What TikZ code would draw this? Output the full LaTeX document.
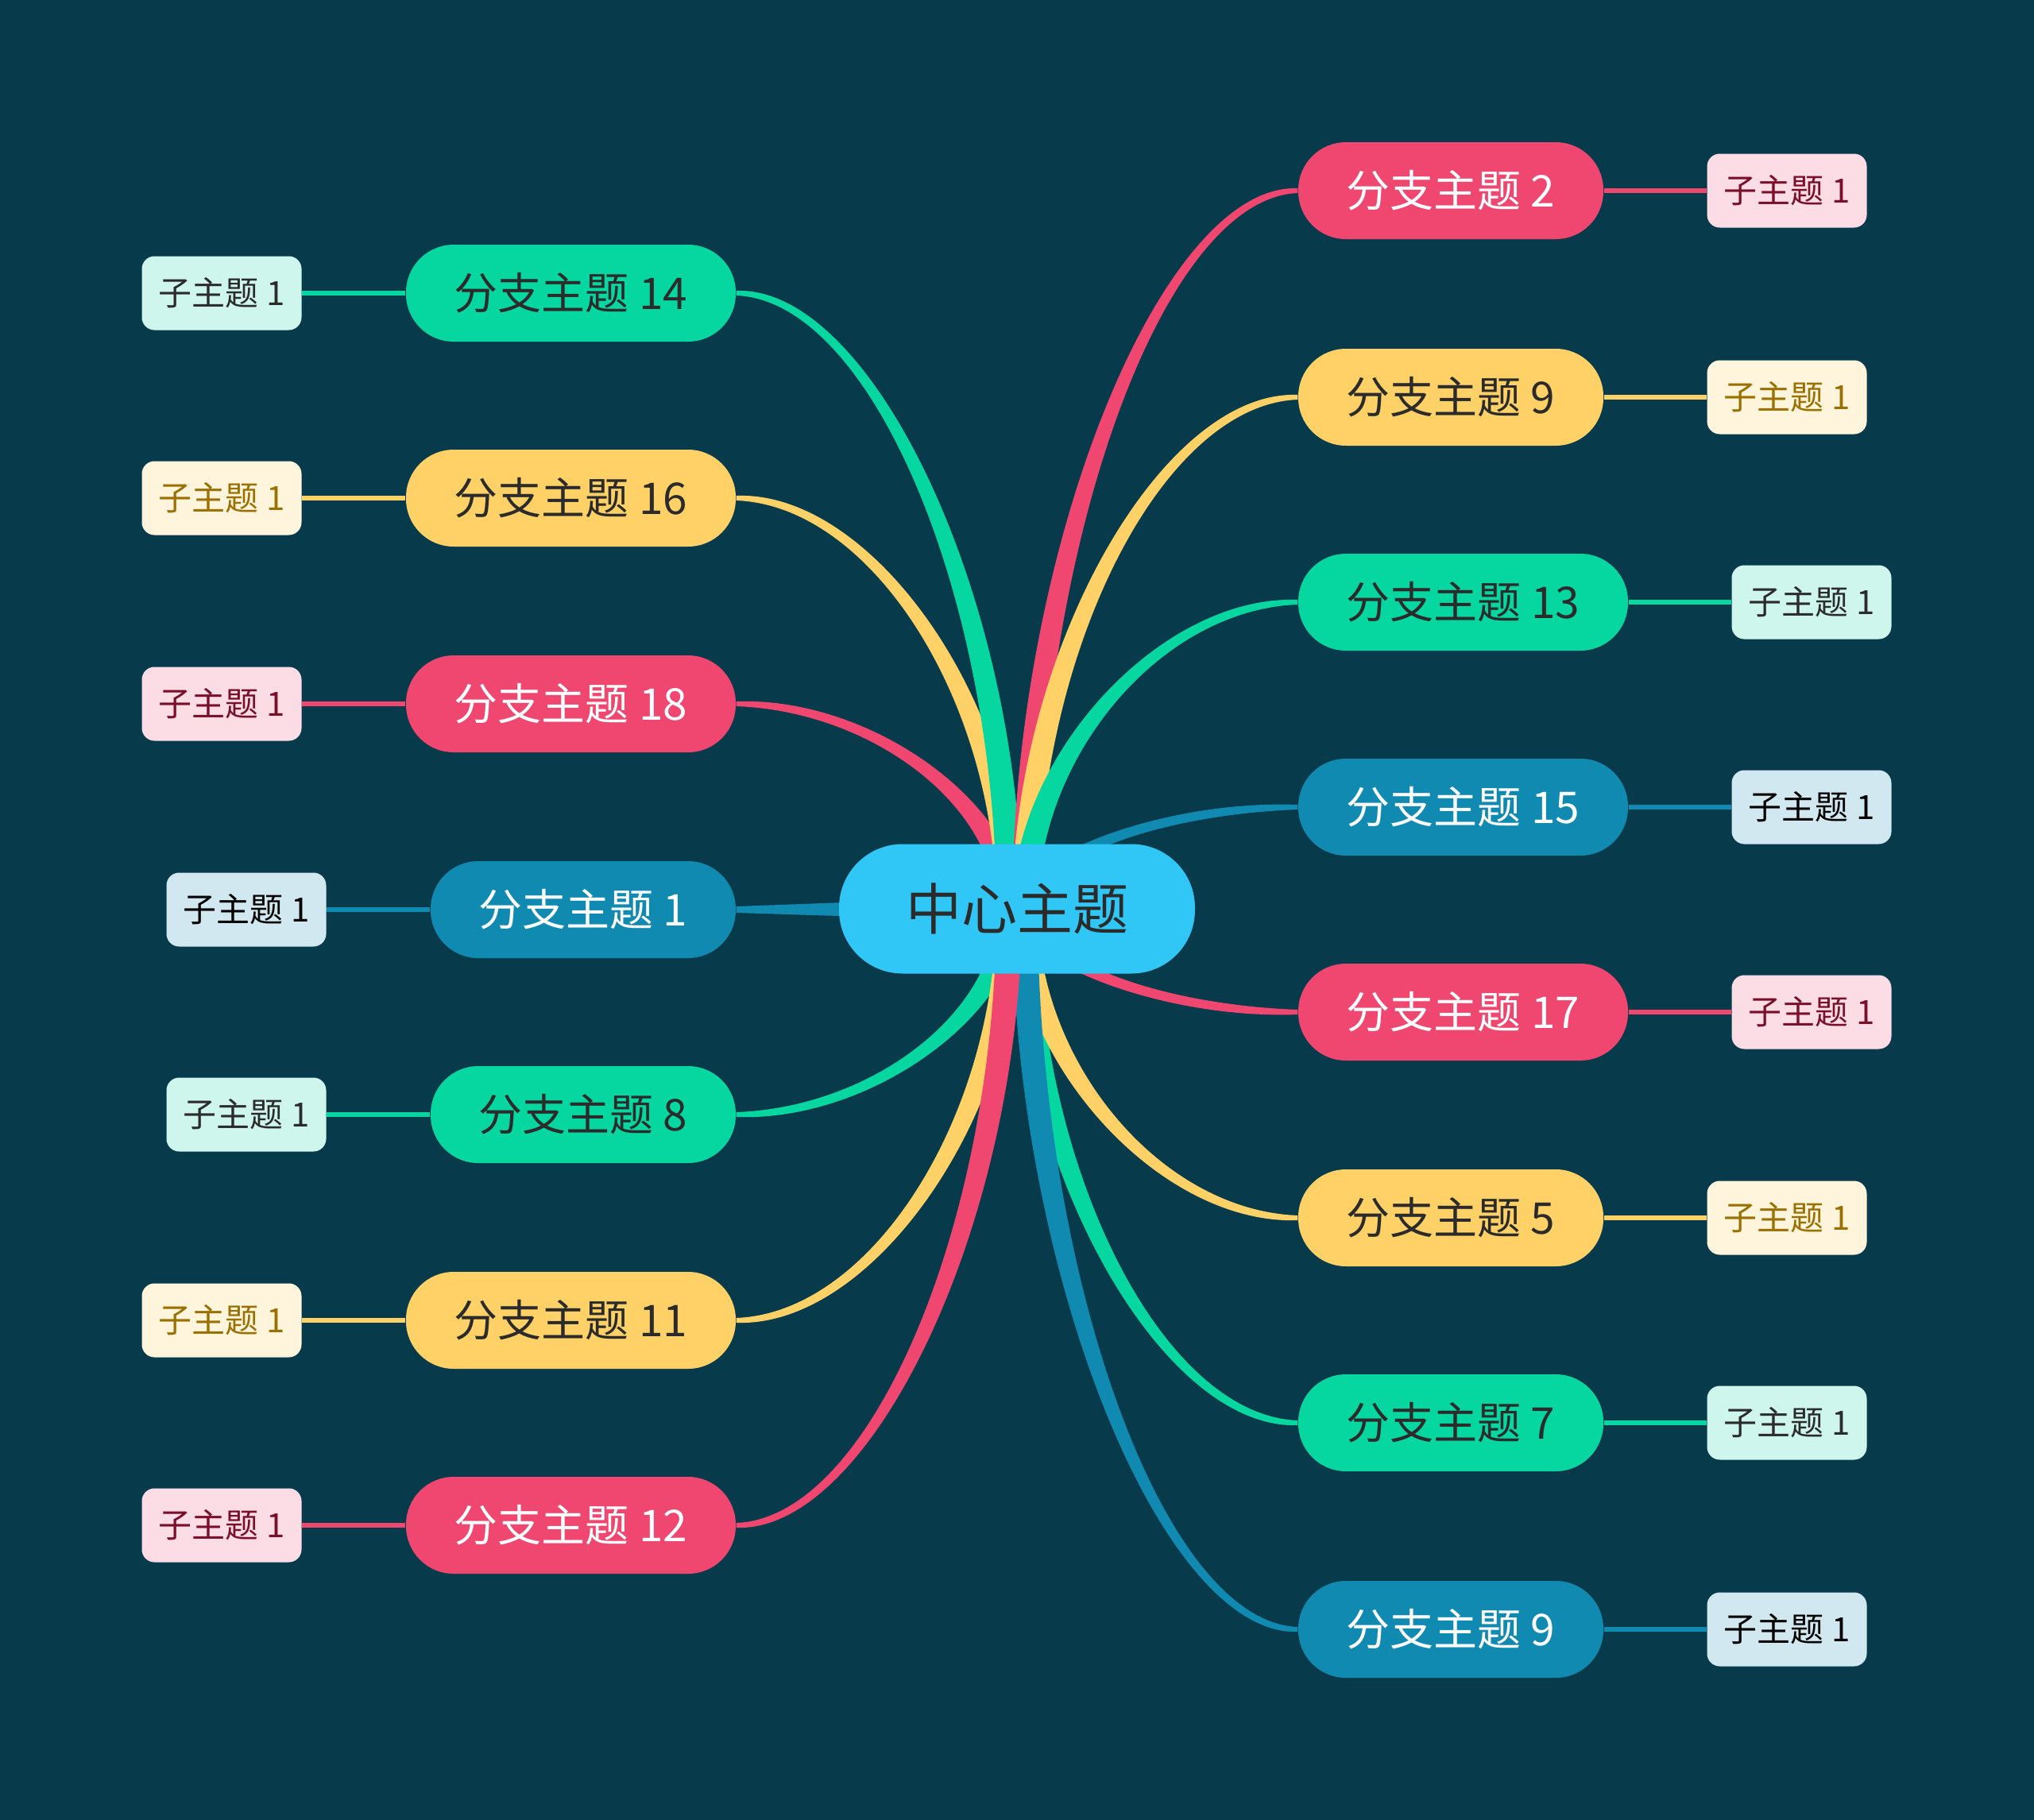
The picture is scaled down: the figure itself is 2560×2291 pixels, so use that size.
\documentclass[tikz,border=0pt]{standalone}
\usepackage{fontspec}
\setmainfont{Noto Sans CJK SC}
\usetikzlibrary{calc}
\pgfdeclarelayer{bg}
\pgfdeclarelayer{links}
\pgfsetlayers{bg,links,main}

\definecolor{bgc}{HTML}{073B4C}
\definecolor{cred}{HTML}{EF476F}
\definecolor{cyel}{HTML}{FFD166}
\definecolor{cgrn}{HTML}{06D6A0}
\definecolor{cblu}{HTML}{118AB2}
\definecolor{ccen}{HTML}{30C6F6}
\definecolor{sred}{HTML}{FCDDE5}
\definecolor{syel}{HTML}{FFF5DC}
\definecolor{sgrn}{HTML}{CFF6EC}
\definecolor{sblu}{HTML}{D1E8F0}
\definecolor{tred}{HTML}{7A0F2C}
\definecolor{tyel}{HTML}{9A7000}
\definecolor{tdark}{HTML}{2B2B2B}

\newcommand\taper[4]{% colour, start coordinate, target anchor, sign
  \fill[#1] let \p1=(#2), \p2=(#3),
    \n1={(\x1+\x2)/2}, \n2={(\y1+\y2)/2},
    \n3={\x1-(#4)*4.8pt}, \n4={\x1+(#4)*4.8pt},
    \n5={\y2+0.9pt}, \n6={\y2-0.9pt},
    \n7={\y2+2.8pt}, \n8={\y2-2.8pt} in
    (\n3,\y1) .. controls (\n3,\n2) and (\n1,\n7) .. (\x2,\n5)
    -- (\x2,\n6) .. controls (\n1,\n8) and (\n4,\n2) .. (\n4,\y1) -- cycle;}

\tikzset{
  branch/.style={rounded corners=18pt, minimum height=36.6pt, inner sep=0pt,
    font=\fontsize{16.5pt}{20pt}\selectfont},
  bw/.style={branch, minimum width=115.2pt},
  bW/.style={branch, minimum width=124.5pt},
  sub/.style={rounded corners=4.8pt, minimum width=60.3pt, minimum height=27.9pt,
    inner sep=0pt, font=\fontsize{12.6pt}{15pt}\selectfont},
  Rb/.style={fill=cred, text=white},
  Yb/.style={fill=cyel, text=tdark},
  Gb/.style={fill=cgrn, text=tdark},
  Bb/.style={fill=cblu, text=white},
  Rs/.style={sub, fill=sred, text=tred},
  Ys/.style={sub, fill=syel, text=tyel},
  Gs/.style={sub, fill=sgrn, text=tdark},
  Bs/.style={sub, fill=sblu, text=black},
  sublink/.style={line width=1.8pt},
  central/.style={fill=ccen, rounded corners=24pt, minimum width=134.4pt,
    minimum height=48.9pt, inner sep=0pt, text=tdark,
    font=\fontsize{21pt}{25pt}\selectfont}
}

\begin{document}
\begin{tikzpicture}[x=0.3pt, y=-0.3pt]
\begin{pgfonlayer}{bg}
  \fill[bgc] (0,0) rectangle (2560,2291);
\end{pgfonlayer}
\useasboundingbox (0,0) rectangle (2560,2291);

% central
\node[central] (c) at (1280,1144) {中心主题};
\coordinate (cL) at ($(c.center)+(-10,0)$);
\coordinate (cR) at ($(c.center)+(10,0)$);

% right branches
\node[bw, Rb] (b2)  at (1826,240)  {分支主题 2};
\node[bw, Yb] (b9a) at (1826,500)  {分支主题 9};
\node[bW, Gb] (b13) at (1841.5,758) {分支主题 13};
\node[bW, Bb] (b15) at (1841.5,1016) {分支主题 15};
\node[bW, Rb] (b17) at (1841.5,1274) {分支主题 17};
\node[bw, Yb] (b5)  at (1826,1533) {分支主题 5};
\node[bw, Gb] (b7)  at (1826,1791) {分支主题 7};
\node[bw, Bb] (b9b) at (1826,2051) {分支主题 9};

\node[Rs] (s2)  at (2249,240)  {子主题 1};
\node[Ys] (s9a) at (2249,500)  {子主题 1};
\node[Gs] (s13) at (2280,758)  {子主题 1};
\node[Bs] (s15) at (2280,1016) {子主题 1};
\node[Rs] (s17) at (2280,1274) {子主题 1};
\node[Ys] (s5)  at (2249,1533) {子主题 1};
\node[Gs] (s7)  at (2249,1791) {子主题 1};
\node[Bs] (s9b) at (2249,2051) {子主题 1};

% left branches
\node[bW, Gb] (b14) at (718.5,369)  {分支主题 14};
\node[bW, Yb] (b16) at (718.5,627)  {分支主题 16};
\node[bW, Rb] (b18) at (718.5,886)  {分支主题 18};
\node[bw, Bb] (b1)  at (734,1145)   {分支主题 1};
\node[bw, Gb] (b8)  at (734,1403)   {分支主题 8};
\node[bW, Yb] (b11) at (718.5,1662) {分支主题 11};
\node[bW, Rb] (b12) at (718.5,1920) {分支主题 12};

\node[Gs] (s14) at (279,369)  {子主题 1};
\node[Ys] (s16) at (279,627)  {子主题 1};
\node[Rs] (s18) at (279,886)  {子主题 1};
\node[Bs] (s1)  at (310,1145) {子主题 1};
\node[Gs] (s8)  at (310,1403) {子主题 1};
\node[Ys] (s11) at (279,1662) {子主题 1};
\node[Rs] (s12) at (279,1920) {子主题 1};

\begin{pgfonlayer}{links}
  % main tapered connectors
  \taper{cred}{cL}{b18.east}{-1}
  \taper{cyel}{cL}{b16.east}{-1}
  \taper{cgrn}{cL}{b14.east}{-1}
  \taper{cred}{cR}{b2.west}{1}
  \taper{cyel}{cR}{b9a.west}{1}
  \taper{cgrn}{cR}{b13.west}{1}
  \taper{cblu}{cR}{b15.west}{1}
  \taper{cred}{cR}{b17.west}{-1}
  \taper{cgrn}{cR}{b7.west}{-1}
  \taper{cyel}{cR}{b5.west}{-1}
  \taper{cblu}{cR}{b9b.west}{-1}
  \taper{cgrn}{cL}{b8.east}{1}
  \taper{cyel}{cL}{b11.east}{1}
  \taper{cred}{cL}{b12.east}{1}
  \fill[cblu] let \p1=(c.center), \p2=(b1.east) in
    (\x1,\y1+4.8pt) -- (\x2,\y2+1.2pt) -- (\x2,\y2-1.2pt) -- (\x1,\y1-4.8pt) -- cycle;
  % sub connectors
  \draw[sublink, cred] (b2.east) -- (s2.west);
  \draw[sublink, cyel] (b9a.east) -- (s9a.west);
  \draw[sublink, cgrn] (b13.east) -- (s13.west);
  \draw[sublink, cblu] (b15.east) -- (s15.west);
  \draw[sublink, cred] (b17.east) -- (s17.west);
  \draw[sublink, cyel] (b5.east) -- (s5.west);
  \draw[sublink, cgrn] (b7.east) -- (s7.west);
  \draw[sublink, cblu] (b9b.east) -- (s9b.west);
  \draw[sublink, cgrn] (b14.west) -- (s14.east);
  \draw[sublink, cyel] (b16.west) -- (s16.east);
  \draw[sublink, cred] (b18.west) -- (s18.east);
  \draw[sublink, cblu] (b1.west) -- (s1.east);
  \draw[sublink, cgrn] (b8.west) -- (s8.east);
  \draw[sublink, cyel] (b11.west) -- (s11.east);
  \draw[sublink, cred] (b12.west) -- (s12.east);
\end{pgfonlayer}
\end{tikzpicture}
\end{document}
